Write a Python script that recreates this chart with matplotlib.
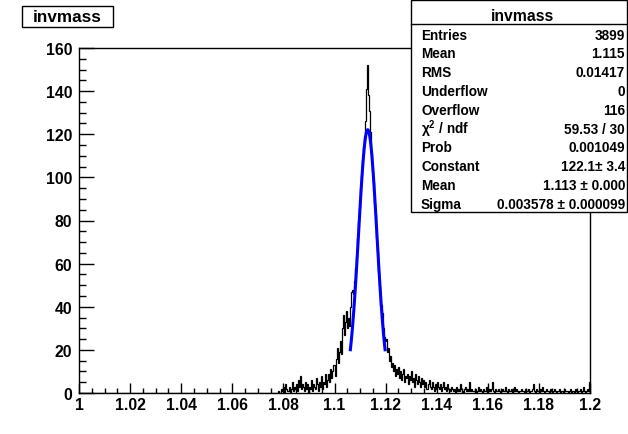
import numpy as np
import matplotlib
matplotlib.use("Agg")
import matplotlib.pyplot as plt
from matplotlib.patches import Rectangle
from matplotlib.lines import Line2D

plt.rcParams['font.family'] = ['Liberation Sans', 'DejaVu Sans']
plt.rcParams['font.weight'] = 'bold'

# ---------------- data ----------------
x_min, x_max, n_bins = 1.0, 1.2, 500
first_filled_edge = 1.078          # bins below this edge are empty

left_tail = [1, 0, 0, 2, 1, 3, 0, 4, 2, 1, 3, 0, 2, 5, 1, 3, 2, 4, 1, 6, 3, 8, 2, 4,
             3, 1, 5, 2, 4, 0, 3, 2, 6, 1, 4, 3, 2, 7, 4, 1, 5, 3, 8, 2, 5, 4, 9, 3,
             6, 9, 5, 11, 7, 10, 13, 8, 16, 21, 14, 19, 24, 18, 30, 36, 27, 33, 38, 30]
peak = [35, 31, 40, 47, 48, 46, 52, 58, 63, 72,
        80, 86, 95, 101, 108, 114, 119, 126, 141, 152,
        138, 131, 121, 111, 103, 98, 88, 83, 72, 66,
        56, 50, 41, 37, 30, 26, 24, 25, 19, 21,
        15, 17, 12]
right_tail = [14, 10, 13, 8, 11, 9, 12, 7, 10, 6, 9, 11, 5, 8,
              7, 9, 4, 8, 6, 10, 5, 7, 3, 9, 6, 4, 8, 5, 3, 7, 4, 6,
              3, 5, 2, 4, 6, 3, 2, 5, 3, 1, 4, 2, 5, 3, 2, 4, 1, 3, 5, 2, 3, 1, 4, 2]
far_tail = [2, 1, 3, 2, 1, 2, 0, 3, 1, 2, 1, 4, 2, 1, 0, 2, 3, 1, 2, 1, 5, 1, 2, 1,
            1, 2, 0, 1, 3, 1, 2, 1, 0, 2, 1, 1, 3, 0, 1, 2, 1, 2, 5, 1, 0, 2, 1, 1,
            2, 1, 0, 1, 2, 1, 1, 3, 1, 0, 2, 1, 1, 2, 0, 1, 3, 1, 2, 1, 0, 1, 2, 1,
            1, 0, 2, 1, 1, 2, 0, 1, 1, 2, 4, 1, 0, 2, 1, 1, 0, 2, 1, 3, 1, 0, 1, 2,
            1, 1, 0, 2, 1, 0, 1, 2, 1, 0, 1, 1, 2, 0, 1, 1, 0, 2, 1, 1, 0, 1, 2, 0,
            1, 1, 0, 2, 1, 0, 1, 1, 2, 0, 1, 3, 1, 0, 1, 2, 1, 5]

fit_constant = 122.1
fit_mean = 1.113
fit_sigma = 0.003578
fit_range = (1.1062, 1.1198)

x_ticks = [1.0, 1.02, 1.04, 1.06, 1.08, 1.1, 1.12, 1.14, 1.16, 1.18, 1.2]
x_tick_labels = ['1', '1.02', '1.04', '1.06', '1.08', '1.1', '1.12', '1.14', '1.16', '1.18', '1.2']
y_ticks = [0, 20, 40, 60, 80, 100, 120, 140, 160]

hist_name = 'invmass'
stat_labels = ['Entries', 'Mean', 'RMS', 'Underflow', 'Overflow', r'$\mathregular{\chi^{2}}$ / ndf',
               'Prob', 'Constant', 'Mean', 'Sigma']
stat_values = ['3899', '1.115', '0.01417', '0', '116', '59.53 / 30',
               '0.001049', '122.1\u00b1 3.4', '1.113 \u00b1 0.000', '0.003578 \u00b1 0.000099']

# ---------------- build histogram ----------------
edges = np.linspace(x_min, x_max, n_bins + 1)
counts = np.zeros(n_bins)
start = int(round((first_filled_edge - x_min) / ((x_max - x_min) / n_bins)))
filled = left_tail + peak + right_tail + far_tail
counts[start:start + len(filled)] = filled

W, H = 628, 435
fig = plt.figure(figsize=(W / 100, H / 100), dpi=100)
fig.patch.set_facecolor('white')
ax = fig.add_axes([79 / W, (H - 394) / H, (590 - 79) / W, (394 - 49) / H])

ax.stairs(counts, edges, color='black', lw=0.9, baseline=0)

xf = np.linspace(fit_range[0], fit_range[1], 100)
yf = fit_constant * np.exp(-0.5 * ((xf - fit_mean) / fit_sigma) ** 2)
ax.plot(xf, yf, color='#0000ff', lw=2.2, zorder=3)

ax.set_xlim(x_min, x_max)
ax.set_ylim(0, 160)
ax.set_xticks(x_ticks)
ax.set_xticklabels(x_tick_labels)
ax.set_xticks(np.arange(1.0, 1.2001, 0.005), minor=True)
ax.set_yticks(y_ticks)
ax.set_yticklabels([str(v) for v in y_ticks])
ax.set_yticks(np.arange(0, 161, 5), minor=True)

ax.tick_params(axis='x', which='major', direction='in', length=7.2, width=1.0, pad=3,
               labelsize=11.3)
ax.tick_params(axis='x', which='minor', direction='in', length=3.6, width=1.0)
ax.tick_params(axis='y', which='major', direction='in', length=10.8, width=1.0, pad=5,
               labelsize=11.3)
ax.tick_params(axis='y', which='minor', direction='in', length=5.0, width=1.0)
for lab in ax.get_xticklabels() + ax.get_yticklabels():
    lab.set_fontweight('bold')
for s in ax.spines.values():
    s.set_linewidth(1.0)

# title box
def fx(px):
    return px / W
def fy(py):
    return 1 - py / H

fig.add_artist(Rectangle((fx(22), fy(28)), fx(113) - fx(22), fy(7) - fy(28),
                         facecolor='white', edgecolor='black', lw=1.0,
                         transform=fig.transFigure, zorder=5))
fig.text(fx(67.5), fy(17.5), hist_name, ha='center', va='center', fontsize=12.3,
         fontweight='bold', zorder=6)

# stats box
bx0, bx1, by0, by1 = 411, 627, 0.5, 213
fig.add_artist(Rectangle((fx(bx0), fy(by1)), fx(bx1) - fx(bx0), fy(by0) - fy(by1),
                         facecolor='white', edgecolor='black', lw=1.0,
                         transform=fig.transFigure, zorder=5))
fig.add_artist(Line2D([fx(bx0), fx(bx1)], [fy(25), fy(25)], color='black', lw=1.0,
                      transform=fig.transFigure, zorder=6))
fig.text(fx(523), fy(16.5), hist_name, ha='center', va='center', fontsize=11.3,
         fontweight='bold', zorder=6)
for i, (lab, val) in enumerate(zip(stat_labels, stat_values)):
    yy = fy(35.5 + 18.8 * i)
    fig.text(fx(421), yy, lab, ha='left', va='center', fontsize=9.8,
             fontweight='bold', zorder=6)
    fig.text(fx(625), yy, val, ha='right', va='center', fontsize=9.8,
             fontweight='bold', zorder=6)

fig.savefig('out.png', dpi=100)
